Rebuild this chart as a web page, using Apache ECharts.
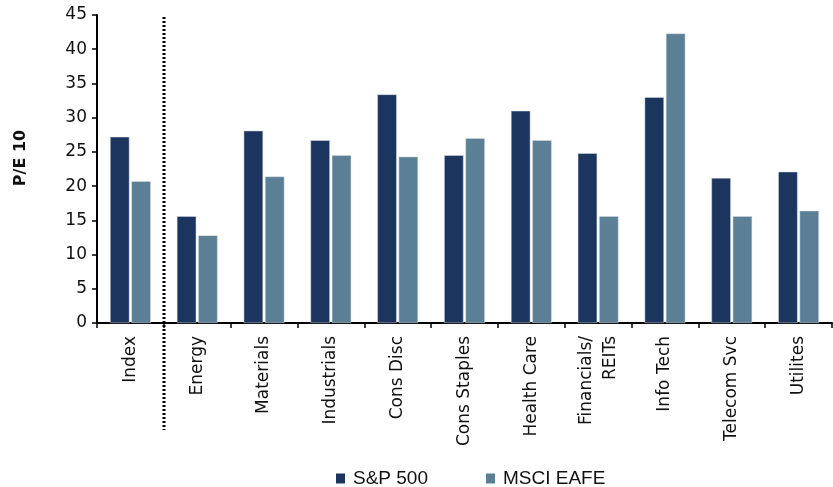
<!DOCTYPE html>
<html>
<head>
<meta charset="utf-8">
<script src="https://cdn.jsdelivr.net/npm/echarts@6/dist/echarts.min.js"></script>
<style>
  html, body { margin: 0; padding: 0; background: #fff; }
  #chart { width: 833px; height: 487px; }
</style>
</head>
<body>
<div id="chart"></div>
<script>
const categories = ['Index', 'Energy', 'Materials', 'Industrials', 'Cons Disc', 'Cons Staples',
  'Health Care', 'Financials/\nREITs', 'Info Tech', 'Telecom Svc', 'Utilites']
const sp500 = [27.2, 15.6, 28.1, 26.7, 33.4, 24.5, 31.0, 24.8, 33.0, 21.2, 22.1]
const eafe = [20.7, 12.8, 21.4, 24.5, 24.3, 27.0, 26.7, 15.6, 42.3, 15.6, 16.4]
const yTicks = { min: 0, max: 45, interval: 5 }

const font = '"DejaVu Sans", "Open Sans", sans-serif'
const legendFont = '"Liberation Sans", Arial, sans-serif'
const chart = echarts.init(document.getElementById('chart'))

chart.setOption({
  backgroundColor: '#ffffff',
  animation: false,
  textStyle: { fontFamily: font },
  legend: {
    top: 464,
    left: 331,
    icon: 'rect',
    itemWidth: 9,
    itemHeight: 10,
    itemGap: 58,
    itemStyle: { borderWidth: 0 },
    textStyle: { fontSize: 19, color: '#111', fontFamily: legendFont, padding: [0, 0, 0, 3] },
    data: ['S&P 500', 'MSCI EAFE']
  },
  grid: { // plot area
    left: 97,
    right: 1,
    top: 15,
    bottom: 164
  },
  xAxis: {
    type: 'category',
    data: categories,
    axisLine: { lineStyle: { color: '#000', width: 2 } },
    axisTick: { show: true, length: 5, lineStyle: { color: '#000', width: 1.5 } },
    axisLabel: {
      rotate: 90,
      interval: 0,
      fontSize: 17,
      color: '#111',
      margin: 13,
      lineHeight: 24
    }
  },
  yAxis: {
    type: 'value',
    min: yTicks.min,
    max: yTicks.max,
    interval: yTicks.interval,
    name: 'P/E 10',
    nameLocation: 'middle',
    nameGap: 68,
    nameRotate: 90,
    nameTextStyle: { fontSize: 16, fontWeight: 'bold', color: '#111', padding: [0, 0, 0, 22] },
    axisLine: { show: true, lineStyle: { color: '#000', width: 2 } },
    axisTick: { show: true, length: 5, lineStyle: { color: '#000', width: 1.5 } },
    axisLabel: { fontSize: 17, color: '#111', margin: 10 },
    splitLine: { show: false }
  },
  series: [
    {
      name: 'S&P 500',
      type: 'bar',
      barWidth: '29%',
      barGap: '10%',
      itemStyle: { color: '#1c355e', borderColor: '#d8dde6', borderWidth: 0.5 },
      data: sp500
    },
    {
      name: 'MSCI EAFE',
      type: 'bar',
      barWidth: '29%',
      itemStyle: { color: '#5b7f95', borderColor: '#d8dde6', borderWidth: 0.5 },
      data: eafe
    }
  ]
})

// dotted separator between the index and the sectors
const c0 = chart.convertToPixel({ xAxisIndex: 0 }, 0)
const c1 = chart.convertToPixel({ xAxisIndex: 0 }, 1)
const sepX = Math.round((c0 + c1) / 2)
const topY = chart.convertToPixel({ yAxisIndex: 0 }, yTicks.max)
chart.setOption({
  graphic: [{
    type: 'line',
    shape: { x1: sepX, y1: topY + 2, x2: sepX, y2: 430 },
    style: { stroke: '#000', lineWidth: 3, lineDash: [2, 2] },
    z: 10
  }]
})
</script>
</body>
</html>
